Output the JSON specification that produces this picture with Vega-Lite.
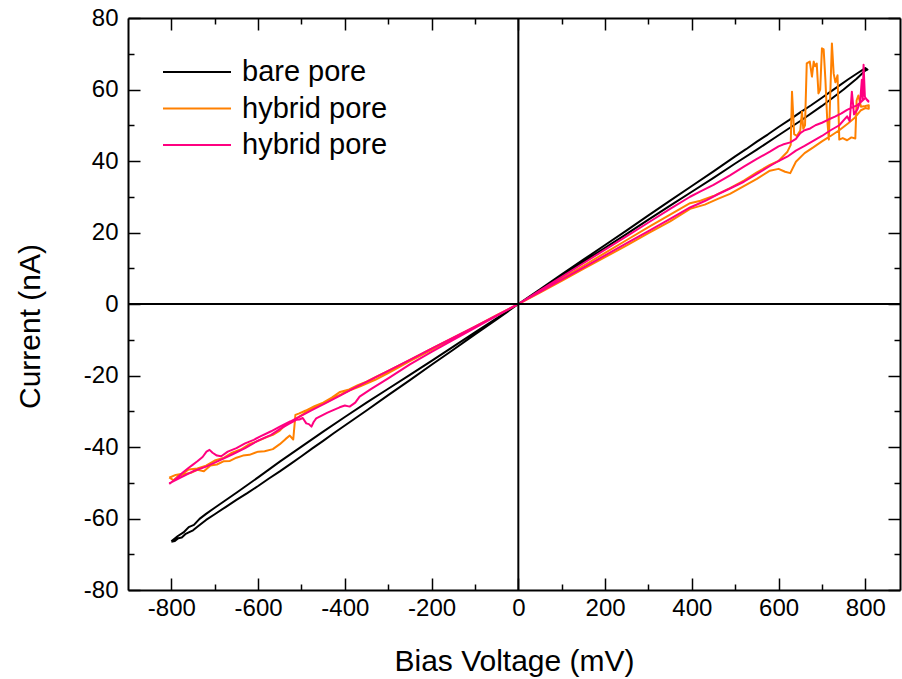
{
  "$schema": "https://vega.github.io/schema/vega-lite/v6.json",
  "width": 772,
  "height": 572,
  "autosize": {"type": "none"},
  "padding": {"left": 128, "top": 18, "right": 2, "bottom": 89},
  "background": "white",
  "config": {
    "view": {"stroke": null},
    "font": "Liberation Sans",
    "axis": {"grid": false, "labelFlush": false, "labelOverlap": false, "labelBound": false, "domainColor": "black", "domainWidth": 2, "tickColor": "black", "tickWidth": 1.5, "labelColor": "black", "titleColor": "black", "labelFont": "Liberation Sans", "titleFont": "Liberation Sans", "titleFontWeight": "normal"}
  },
  "layer": [
    {
      "data": {"values": [
        {"s":"bare","v":-800,"c":-66.5},{"s":"bare","v":-792,"c":-66.3},{"s":"bare","v":-784,"c":-65.5},{"s":"bare","v":-776,"c":-65.3},{"s":"bare","v":-768,"c":-64.4},{"s":"bare","v":-760,"c":-63.9},{"s":"bare","v":-750,"c":-63.3},{"s":"bare","v":-740,"c":-62.3},{"s":"bare","v":-720,"c":-60.4},{"s":"bare","v":-700,"c":-58.8},{"s":"bare","v":-675,"c":-56.8},{"s":"bare","v":-650,"c":-54.8},{"s":"bare","v":-625,"c":-52.9},{"s":"bare","v":-600,"c":-50.9},{"s":"bare","v":-575,"c":-48.8},{"s":"bare","v":-550,"c":-46.8},{"s":"bare","v":-525,"c":-44.7},{"s":"bare","v":-500,"c":-42.6},{"s":"bare","v":-475,"c":-40.4},{"s":"bare","v":-450,"c":-38.3},{"s":"bare","v":-425,"c":-36.1},{"s":"bare","v":-400,"c":-34.0},{"s":"bare","v":-350,"c":-29.8},{"s":"bare","v":-300,"c":-25.5},{"s":"bare","v":-250,"c":-21.3},{"s":"bare","v":-200,"c":-17.0},{"s":"bare","v":-150,"c":-12.8},{"s":"bare","v":-100,"c":-8.5},{"s":"bare","v":-50,"c":-4.3},{"s":"bare","v":0,"c":0},{"s":"bare","v":50,"c":3.9},{"s":"bare","v":100,"c":7.9},{"s":"bare","v":150,"c":11.8},{"s":"bare","v":200,"c":15.7},{"s":"bare","v":250,"c":19.6},{"s":"bare","v":300,"c":23.6},{"s":"bare","v":350,"c":27.5},{"s":"bare","v":400,"c":31.4},{"s":"bare","v":450,"c":35.3},{"s":"bare","v":500,"c":39.3},{"s":"bare","v":550,"c":43.2},{"s":"bare","v":600,"c":47.2},{"s":"bare","v":650,"c":51.2},{"s":"bare","v":700,"c":55.4},{"s":"bare","v":750,"c":60.0},{"s":"bare","v":780,"c":63.0},{"s":"bare","v":800,"c":65.3},{"s":"bare","v":805,"c":65.6},
        {"s":"bare","v":800,"c":66.0},{"s":"bare","v":780,"c":64.4},{"s":"bare","v":760,"c":62.8},{"s":"bare","v":740,"c":61.1},{"s":"bare","v":720,"c":59.4},{"s":"bare","v":700,"c":57.7},{"s":"bare","v":675,"c":55.6},{"s":"bare","v":650,"c":53.6},{"s":"bare","v":625,"c":51.5},{"s":"bare","v":600,"c":49.5},{"s":"bare","v":575,"c":47.4},{"s":"bare","v":550,"c":45.4},{"s":"bare","v":525,"c":43.3},{"s":"bare","v":500,"c":41.3},{"s":"bare","v":450,"c":37.1},{"s":"bare","v":400,"c":33.0},{"s":"bare","v":350,"c":28.9},{"s":"bare","v":300,"c":24.8},{"s":"bare","v":250,"c":20.6},{"s":"bare","v":200,"c":16.5},{"s":"bare","v":150,"c":12.4},{"s":"bare","v":100,"c":8.3},{"s":"bare","v":50,"c":4.1},{"s":"bare","v":0,"c":0},{"s":"bare","v":-50,"c":-4.0},{"s":"bare","v":-100,"c":-7.9},{"s":"bare","v":-150,"c":-11.9},{"s":"bare","v":-200,"c":-15.9},{"s":"bare","v":-250,"c":-19.8},{"s":"bare","v":-300,"c":-23.7},{"s":"bare","v":-350,"c":-27.6},{"s":"bare","v":-400,"c":-31.6},{"s":"bare","v":-450,"c":-35.7},{"s":"bare","v":-500,"c":-39.9},{"s":"bare","v":-550,"c":-44.1},{"s":"bare","v":-600,"c":-48.5},{"s":"bare","v":-650,"c":-52.8},{"s":"bare","v":-700,"c":-57.0},{"s":"bare","v":-720,"c":-58.7},{"s":"bare","v":-735,"c":-60.1},{"s":"bare","v":-748,"c":-61.8},{"s":"bare","v":-760,"c":-62.4},{"s":"bare","v":-772,"c":-63.9},{"s":"bare","v":-785,"c":-64.9},{"s":"bare","v":-800,"c":-66.4},

        {"s":"hyb1","v":-805,"c":-48.5},{"s":"hyb1","v":-795,"c":-49.3},{"s":"hyb1","v":-785,"c":-48.2},{"s":"hyb1","v":-770,"c":-47.6},{"s":"hyb1","v":-755,"c":-47.2},{"s":"hyb1","v":-740,"c":-46.4},{"s":"hyb1","v":-725,"c":-46.8},{"s":"hyb1","v":-710,"c":-45.2},{"s":"hyb1","v":-695,"c":-44.9},{"s":"hyb1","v":-680,"c":-44.0},{"s":"hyb1","v":-665,"c":-43.9},{"s":"hyb1","v":-650,"c":-43.0},{"s":"hyb1","v":-635,"c":-42.4},{"s":"hyb1","v":-620,"c":-42.2},{"s":"hyb1","v":-600,"c":-41.3},{"s":"hyb1","v":-585,"c":-41.2},{"s":"hyb1","v":-566,"c":-40.6},{"s":"hyb1","v":-550,"c":-39.2},{"s":"hyb1","v":-537,"c":-37.8},{"s":"hyb1","v":-527,"c":-36.8},{"s":"hyb1","v":-519,"c":-37.9},{"s":"hyb1","v":-514,"c":-31.0},{"s":"hyb1","v":-505,"c":-30.6},{"s":"hyb1","v":-490,"c":-29.8},{"s":"hyb1","v":-470,"c":-28.6},{"s":"hyb1","v":-450,"c":-27.6},{"s":"hyb1","v":-430,"c":-26.2},{"s":"hyb1","v":-411,"c":-24.6},{"s":"hyb1","v":-390,"c":-23.9},{"s":"hyb1","v":-370,"c":-22.7},{"s":"hyb1","v":-350,"c":-21.7},{"s":"hyb1","v":-325,"c":-20.2},{"s":"hyb1","v":-300,"c":-18.7},{"s":"hyb1","v":-250,"c":-15.6},{"s":"hyb1","v":-200,"c":-12.5},{"s":"hyb1","v":-150,"c":-9.4},{"s":"hyb1","v":-100,"c":-6.3},{"s":"hyb1","v":-50,"c":-3.1},{"s":"hyb1","v":0,"c":0},{"s":"hyb1","v":50,"c":3.2},{"s":"hyb1","v":100,"c":6.5},{"s":"hyb1","v":150,"c":9.8},{"s":"hyb1","v":200,"c":13.1},{"s":"hyb1","v":250,"c":16.4},{"s":"hyb1","v":300,"c":19.8},{"s":"hyb1","v":350,"c":23.1},{"s":"hyb1","v":396,"c":26.6},{"s":"hyb1","v":430,"c":27.8},{"s":"hyb1","v":460,"c":29.4},{"s":"hyb1","v":488,"c":30.8},{"s":"hyb1","v":520,"c":33.0},{"s":"hyb1","v":550,"c":35.0},{"s":"hyb1","v":580,"c":37.3},{"s":"hyb1","v":600,"c":37.8},{"s":"hyb1","v":615,"c":37.0},{"s":"hyb1","v":627,"c":36.6},{"s":"hyb1","v":640,"c":39.8},{"s":"hyb1","v":660,"c":42.2},{"s":"hyb1","v":680,"c":43.8},{"s":"hyb1","v":700,"c":45.5},{"s":"hyb1","v":720,"c":47.0},{"s":"hyb1","v":740,"c":48.6},{"s":"hyb1","v":760,"c":50.5},{"s":"hyb1","v":775,"c":52.0},{"s":"hyb1","v":790,"c":54.2},{"s":"hyb1","v":800,"c":54.8},{"s":"hyb1","v":808,"c":54.6},
        {"s":"hyb1","v":808,"c":55.6},{"s":"hyb1","v":800,"c":55.4},{"s":"hyb1","v":790,"c":55.2},{"s":"hyb1","v":784,"c":58.3},{"s":"hyb1","v":780,"c":57.0},{"s":"hyb1","v":777,"c":46.3},{"s":"hyb1","v":768,"c":46.6},{"s":"hyb1","v":758,"c":45.8},{"s":"hyb1","v":748,"c":46.4},{"s":"hyb1","v":740,"c":46.0},{"s":"hyb1","v":736,"c":64.0},{"s":"hyb1","v":731,"c":62.0},{"s":"hyb1","v":727,"c":64.5},{"s":"hyb1","v":723,"c":72.9},{"s":"hyb1","v":719,"c":58.0},{"s":"hyb1","v":716,"c":46.0},{"s":"hyb1","v":712,"c":52.0},{"s":"hyb1","v":708,"c":62.7},{"s":"hyb1","v":704,"c":71.2},{"s":"hyb1","v":700,"c":71.5},{"s":"hyb1","v":696,"c":60.0},{"s":"hyb1","v":692,"c":58.9},{"s":"hyb1","v":688,"c":67.3},{"s":"hyb1","v":684,"c":66.5},{"s":"hyb1","v":681,"c":67.8},{"s":"hyb1","v":677,"c":63.6},{"s":"hyb1","v":672,"c":67.8},{"s":"hyb1","v":665,"c":67.3},{"s":"hyb1","v":661,"c":50.0},{"s":"hyb1","v":657,"c":49.0},{"s":"hyb1","v":654,"c":53.8},{"s":"hyb1","v":650,"c":48.5},{"s":"hyb1","v":642,"c":47.0},{"s":"hyb1","v":636,"c":47.5},{"s":"hyb1","v":631,"c":59.4},{"s":"hyb1","v":628,"c":44.5},{"s":"hyb1","v":620,"c":42.5},{"s":"hyb1","v":600,"c":40.0},{"s":"hyb1","v":580,"c":38.9},{"s":"hyb1","v":550,"c":36.8},{"s":"hyb1","v":520,"c":34.5},{"s":"hyb1","v":488,"c":32.4},{"s":"hyb1","v":450,"c":30.2},{"s":"hyb1","v":420,"c":28.9},{"s":"hyb1","v":396,"c":28.2},{"s":"hyb1","v":350,"c":25.0},{"s":"hyb1","v":300,"c":21.5},{"s":"hyb1","v":250,"c":17.9},{"s":"hyb1","v":200,"c":14.3},{"s":"hyb1","v":150,"c":10.7},{"s":"hyb1","v":100,"c":7.1},{"s":"hyb1","v":50,"c":3.5},{"s":"hyb1","v":0,"c":0},{"s":"hyb1","v":-50,"c":-3.2},{"s":"hyb1","v":-100,"c":-6.4},{"s":"hyb1","v":-150,"c":-9.6},{"s":"hyb1","v":-200,"c":-12.8},{"s":"hyb1","v":-250,"c":-16.0},{"s":"hyb1","v":-300,"c":-19.3},{"s":"hyb1","v":-330,"c":-21.2},{"s":"hyb1","v":-366,"c":-23.1},{"s":"hyb1","v":-390,"c":-24.2},{"s":"hyb1","v":-411,"c":-25.4},{"s":"hyb1","v":-440,"c":-27.3},{"s":"hyb1","v":-470,"c":-29.0},{"s":"hyb1","v":-490,"c":-30.4},{"s":"hyb1","v":-505,"c":-31.5},{"s":"hyb1","v":-520,"c":-32.8},{"s":"hyb1","v":-535,"c":-33.6},{"s":"hyb1","v":-550,"c":-35.4},{"s":"hyb1","v":-566,"c":-36.6},{"s":"hyb1","v":-580,"c":-37.2},{"s":"hyb1","v":-600,"c":-38.3},{"s":"hyb1","v":-620,"c":-39.2},{"s":"hyb1","v":-640,"c":-40.7},{"s":"hyb1","v":-660,"c":-41.6},{"s":"hyb1","v":-680,"c":-43.1},{"s":"hyb1","v":-700,"c":-43.8},{"s":"hyb1","v":-720,"c":-45.2},{"s":"hyb1","v":-740,"c":-46.0},{"s":"hyb1","v":-760,"c":-46.3},{"s":"hyb1","v":-775,"c":-47.5},{"s":"hyb1","v":-790,"c":-47.8},{"s":"hyb1","v":-805,"c":-48.6},

        {"s":"hyb2","v":-805,"c":-50.3},{"s":"hyb2","v":-790,"c":-49.0},{"s":"hyb2","v":-775,"c":-47.3},{"s":"hyb2","v":-760,"c":-45.8},{"s":"hyb2","v":-751,"c":-45.0},{"s":"hyb2","v":-740,"c":-44.0},{"s":"hyb2","v":-728,"c":-42.8},{"s":"hyb2","v":-719,"c":-41.3},{"s":"hyb2","v":-712,"c":-40.8},{"s":"hyb2","v":-705,"c":-41.6},{"s":"hyb2","v":-695,"c":-42.4},{"s":"hyb2","v":-685,"c":-42.6},{"s":"hyb2","v":-670,"c":-41.3},{"s":"hyb2","v":-650,"c":-40.3},{"s":"hyb2","v":-630,"c":-39.0},{"s":"hyb2","v":-610,"c":-38.0},{"s":"hyb2","v":-596,"c":-37.1},{"s":"hyb2","v":-570,"c":-35.6},{"s":"hyb2","v":-550,"c":-34.3},{"s":"hyb2","v":-525,"c":-32.8},{"s":"hyb2","v":-500,"c":-31.2},{"s":"hyb2","v":-475,"c":-29.6},{"s":"hyb2","v":-450,"c":-28.1},{"s":"hyb2","v":-430,"c":-26.8},{"s":"hyb2","v":-411,"c":-25.6},{"s":"hyb2","v":-380,"c":-23.6},{"s":"hyb2","v":-350,"c":-21.8},{"s":"hyb2","v":-300,"c":-18.7},{"s":"hyb2","v":-250,"c":-15.6},{"s":"hyb2","v":-200,"c":-12.5},{"s":"hyb2","v":-150,"c":-9.4},{"s":"hyb2","v":-100,"c":-6.3},{"s":"hyb2","v":-50,"c":-3.2},{"s":"hyb2","v":0,"c":0},{"s":"hyb2","v":50,"c":3.4},{"s":"hyb2","v":100,"c":6.8},{"s":"hyb2","v":150,"c":10.2},{"s":"hyb2","v":200,"c":13.6},{"s":"hyb2","v":250,"c":17.0},{"s":"hyb2","v":300,"c":20.4},{"s":"hyb2","v":350,"c":23.8},{"s":"hyb2","v":396,"c":27.0},{"s":"hyb2","v":430,"c":28.8},{"s":"hyb2","v":460,"c":30.7},{"s":"hyb2","v":488,"c":32.3},{"s":"hyb2","v":520,"c":34.2},{"s":"hyb2","v":550,"c":36.4},{"s":"hyb2","v":580,"c":38.6},{"s":"hyb2","v":600,"c":40.0},{"s":"hyb2","v":620,"c":41.2},{"s":"hyb2","v":640,"c":42.9},{"s":"hyb2","v":660,"c":44.2},{"s":"hyb2","v":680,"c":45.6},{"s":"hyb2","v":700,"c":47.0},{"s":"hyb2","v":720,"c":48.6},{"s":"hyb2","v":740,"c":50.0},{"s":"hyb2","v":758,"c":52.5},{"s":"hyb2","v":764,"c":51.2},{"s":"hyb2","v":769,"c":59.4},{"s":"hyb2","v":774,"c":53.0},{"s":"hyb2","v":782,"c":54.5},{"s":"hyb2","v":788,"c":56.5},{"s":"hyb2","v":792,"c":62.7},{"s":"hyb2","v":794,"c":57.0},{"s":"hyb2","v":796,"c":66.9},{"s":"hyb2","v":799,"c":58.0},{"s":"hyb2","v":803,"c":57.2},{"s":"hyb2","v":807,"c":56.6},
        {"s":"hyb2","v":807,"c":56.8},{"s":"hyb2","v":800,"c":57.6},{"s":"hyb2","v":790,"c":56.5},{"s":"hyb2","v":780,"c":55.5},{"s":"hyb2","v":770,"c":55.0},{"s":"hyb2","v":758,"c":54.3},{"s":"hyb2","v":745,"c":53.3},{"s":"hyb2","v":730,"c":52.4},{"s":"hyb2","v":715,"c":51.6},{"s":"hyb2","v":700,"c":50.7},{"s":"hyb2","v":685,"c":50.0},{"s":"hyb2","v":673,"c":49.1},{"s":"hyb2","v":660,"c":48.6},{"s":"hyb2","v":650,"c":47.8},{"s":"hyb2","v":640,"c":46.2},{"s":"hyb2","v":627,"c":45.2},{"s":"hyb2","v":610,"c":44.6},{"s":"hyb2","v":600,"c":44.1},{"s":"hyb2","v":580,"c":42.6},{"s":"hyb2","v":550,"c":40.6},{"s":"hyb2","v":520,"c":38.4},{"s":"hyb2","v":488,"c":36.0},{"s":"hyb2","v":450,"c":33.3},{"s":"hyb2","v":420,"c":31.5},{"s":"hyb2","v":396,"c":30.0},{"s":"hyb2","v":350,"c":26.6},{"s":"hyb2","v":300,"c":22.8},{"s":"hyb2","v":250,"c":19.0},{"s":"hyb2","v":200,"c":15.2},{"s":"hyb2","v":150,"c":11.4},{"s":"hyb2","v":100,"c":7.6},{"s":"hyb2","v":50,"c":3.8},{"s":"hyb2","v":0,"c":0},{"s":"hyb2","v":-50,"c":-3.3},{"s":"hyb2","v":-100,"c":-6.7},{"s":"hyb2","v":-150,"c":-10.0},{"s":"hyb2","v":-200,"c":-13.4},{"s":"hyb2","v":-250,"c":-16.9},{"s":"hyb2","v":-300,"c":-20.8},{"s":"hyb2","v":-340,"c":-23.8},{"s":"hyb2","v":-366,"c":-25.9},{"s":"hyb2","v":-376,"c":-27.6},{"s":"hyb2","v":-389,"c":-28.7},{"s":"hyb2","v":-400,"c":-28.4},{"s":"hyb2","v":-412,"c":-28.9},{"s":"hyb2","v":-440,"c":-30.4},{"s":"hyb2","v":-466,"c":-32.0},{"s":"hyb2","v":-472,"c":-33.0},{"s":"hyb2","v":-477,"c":-34.3},{"s":"hyb2","v":-483,"c":-33.6},{"s":"hyb2","v":-489,"c":-33.4},{"s":"hyb2","v":-497,"c":-31.9},{"s":"hyb2","v":-505,"c":-32.3},{"s":"hyb2","v":-512,"c":-32.4},{"s":"hyb2","v":-530,"c":-33.6},{"s":"hyb2","v":-550,"c":-35.0},{"s":"hyb2","v":-570,"c":-36.6},{"s":"hyb2","v":-600,"c":-38.2},{"s":"hyb2","v":-630,"c":-40.3},{"s":"hyb2","v":-660,"c":-42.1},{"s":"hyb2","v":-690,"c":-43.8},{"s":"hyb2","v":-720,"c":-45.5},{"s":"hyb2","v":-750,"c":-46.8},{"s":"hyb2","v":-780,"c":-48.6},{"s":"hyb2","v":-805,"c":-50.2}
      ]},
      "mark": {"type": "line", "strokeWidth": 2, "strokeJoin": "round"},
      "encoding": {
        "x": {"field": "v", "type": "quantitative", "scale": {"domain": [-900, 880], "nice": false, "zero": false},
          "axis": {"orient": "bottom", "values": [-800,-700,-600,-500,-400,-300,-200,-100,0,100,200,300,400,500,600,700,800],
            "labelExpr": "datum.value % 200 === 0 ? toString(datum.value) : ''",
            "tickSize": {"condition": {"test": "datum.value % 200 === 0", "value": -12}, "value": -6},
            "labelFontSize": 24, "labelPadding": 18, "title": "Bias Voltage (mV)", "titleFontSize": 30, "titlePadding": 20}},
        "y": {"field": "c", "type": "quantitative", "scale": {"domain": [-80, 80], "nice": false, "zero": false},
          "axis": {"orient": "left", "values": [-80,-70,-60,-50,-40,-30,-20,-10,0,10,20,30,40,50,60,70,80],
            "labelExpr": "datum.value % 20 === 0 ? toString(datum.value) : ''",
            "tickSize": {"condition": {"test": "datum.value % 20 === 0", "value": -12}, "value": -6},
            "labelFontSize": 24, "labelPadding": 22, "title": "Current (nA)", "titleFontSize": 30, "titlePadding": 38, "titleY": 308}},
        "color": {"field": "s", "type": "nominal",
          "scale": {"domain": ["bare", "hyb1", "hyb2"], "range": ["#000000", "#FF8000", "#FF0080"]},
          "legend": {"orient": "none", "legendX": 34, "legendY": 39, "title": null, "padding": 0,
            "labelExpr": "datum.value === 'bare' ? 'bare pore' : 'hybrid pore'",
            "labelFontSize": 29, "labelFont": "Liberation Sans", "labelColor": "black", "labelOffset": 10,
            "symbolType": "stroke", "symbolSize": 4624, "symbolStrokeWidth": 2, "clipHeight": 30, "rowPadding": 6.5}},
        "order": {"value": null}
      }
    },
    {
      "data": {"values": [{"z": 0}]},
      "mark": {"type": "rule", "color": "black", "strokeWidth": 2},
      "encoding": {
        "x": {"field": "z", "type": "quantitative", "scale": {"domain": [-900, 880], "nice": false, "zero": false},
          "axis": {"orient": "top", "values": [-800,-700,-600,-500,-400,-300,-200,-100,0,100,200,300,400,500,600,700,800],
            "labels": false, "title": null,
            "tickSize": {"condition": {"test": "datum.value % 200 === 0", "value": -12}, "value": -6}}}
      }
    },
    {
      "data": {"values": [{"z": 0}]},
      "mark": {"type": "rule", "color": "black", "strokeWidth": 2},
      "encoding": {
        "y": {"field": "z", "type": "quantitative", "scale": {"domain": [-80, 80], "nice": false, "zero": false},
          "axis": {"orient": "right", "values": [-80,-70,-60,-50,-40,-30,-20,-10,0,10,20,30,40,50,60,70,80],
            "labels": false, "title": null,
            "tickSize": {"condition": {"test": "datum.value % 20 === 0", "value": -12}, "value": -6}}}
      }
    }
  ],
  "resolve": {"axis": {"x": "independent", "y": "independent"}}
}
